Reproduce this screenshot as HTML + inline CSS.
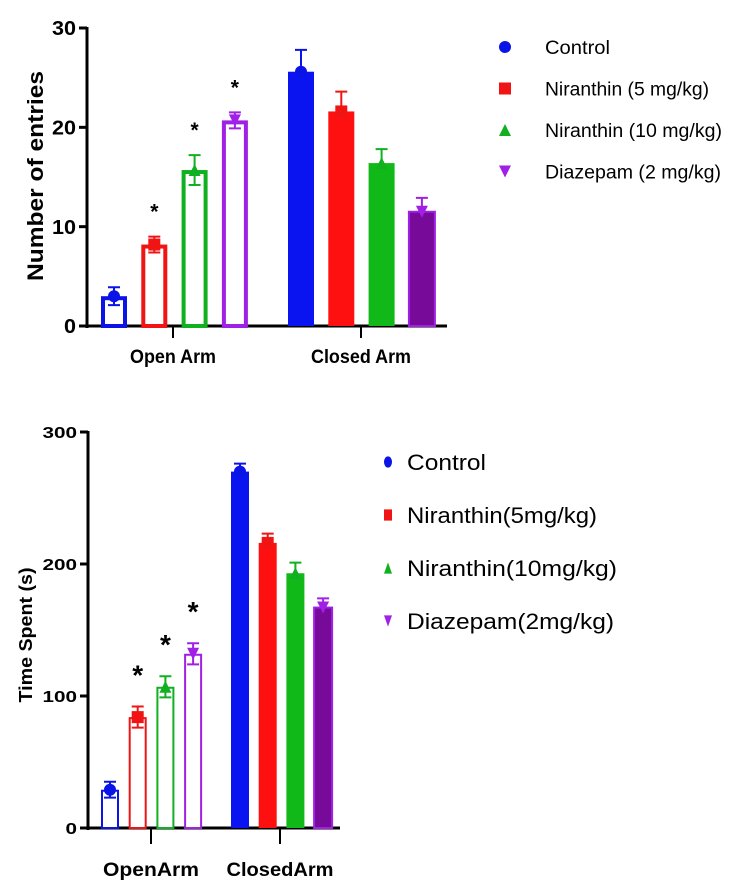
<!DOCTYPE html>
<html><head><meta charset="utf-8"><style>
html,body{margin:0;padding:0;background:#fff;}
svg{display:block;font-family:"Liberation Sans",Arial,sans-serif;}
</style></head><body>
<svg id="s" width="732" height="885" viewBox="0 0 732 885" xmlns="http://www.w3.org/2000/svg"></svg>
<script>
// ---- data ----
const groups = ["Control","Niranthin (5 mg/kg)","Niranthin (10 mg/kg)","Diazepam (2 mg/kg)"];
const groups2 = ["Control","Niranthin(5mg/kg)","Niranthin(10mg/kg)","Diazepam(2mg/kg)"];
const categories1 = ["Open Arm","Closed Arm"];
const categories2 = ["OpenArm","ClosedArm"];
const entriesOpen = [3.0, 8.2, 15.7, 20.7];
const entriesOpenErr = [0.9, 0.8, 1.5, 0.8];
const entriesClosed = [25.6, 21.6, 16.4, 11.5];
const entriesClosedErr = [2.2, 2.0, 1.4, 1.4];
const entriesStars = [false, true, true, true];
const ticks1 = [0, 10, 20, 30];
const timeOpen = [29, 84, 107, 132];
const timeOpenErr = [6, 8, 8, 8];
const timeClosed = [270, 216, 193, 167];
const timeClosedErr = [6, 7, 8, 7];
const timeStars = [false, true, true, true];
const ticks2 = [0, 100, 200, 300];

const colors = ["#0a14e6","#f01414","#10b020","#a020e6"];
const fills = ["#0a14f0","#ff1010","#10b818","#780a9a"];
const NS = "http://www.w3.org/2000/svg";
const svg = document.getElementById('s');
function el(tag, attrs, parent){ const e=document.createElementNS(NS,tag); for(const k in attrs) e.setAttribute(k,attrs[k]); (parent||svg).appendChild(e); return e; }
function fit(t, len){ if(len){ t.setAttribute('textLength',len); t.setAttribute('lengthAdjust','spacingAndGlyphs'); } }

function marker(g, i, cx, cy, r, tall){
  let m;
  const ry = tall ? r*1.4 : r;
  if(i===0) m = el('ellipse',{cx:cx,cy:cy,rx:r,ry:ry,fill:colors[0]},g);
  else if(i===1) m = el('rect',{x:cx-r,y:cy-ry,width:2*r,height:2*ry,fill:colors[1]},g);
  else if(i===2) m = el('polygon',{points:`${cx},${cy-ry} ${cx+r},${cy+ry} ${cx-r},${cy+ry}`,fill:colors[2]},g);
  else m = el('polygon',{points:`${cx-r},${cy-ry} ${cx+r},${cy-ry} ${cx},${cy+ry}`,fill:colors[3]},g);
  return m;
}

function chart(o){
  const g = el('g',{});
  
  
  const y = v => o.y0 - (v - 0) / o.max * (o.y0 - o.yTop);
  const ya = el('line',{x1:o.x0,y1:o.yTop-1,x2:o.x0,y2:o.y0+2,stroke:'#000','stroke-width':3},g);
   
  const xa = el('line',{x1:o.x0-1,y1:o.y0,x2:o.xEnd,y2:o.y0,stroke:'#000','stroke-width':3},g);
   
  o.ticks.forEach(t=>{
    el('line',{x1:o.x0-8,y1:y(t),x2:o.x0,y2:y(t),stroke:'#000','stroke-width':3},g);
    const tx = el('text',{x:o.x0-11,y:y(t)+o.tickFs*0.36,'text-anchor':'end','font-size':o.tickFs,'font-weight':'bold'},g);
    tx.textContent = t;
    fit(tx, String(t).length*o.tickCharW);
     
  });
  o.cats.forEach((c,ci)=>{
    el('line',{x1:o.catX[ci],y1:o.y0,x2:o.catX[ci],y2:o.y0+o.catTick,stroke:'#000','stroke-width':2},g);
    const t = el('text',{x:o.catX[ci],y:o.catY,'text-anchor':'middle','font-size':o.catFs,'font-weight':'bold'},g);
    t.textContent = c;
    fit(t, o.catLen[ci]);
     
  });
  const yt = el('text',{x:0,y:0,transform:`translate(${o.ytX},${o.ytY}) rotate(-90)`,'text-anchor':'middle','font-size':o.ytFs,'font-weight':'bold'},g);
  yt.textContent = o.ytitle;
  fit(yt, o.ytLen);
   
  const sets = [[o.open,o.openErr,true],[o.closed,o.closedErr,false]];
  sets.forEach((s,si)=>{
    s[0].forEach((v,i)=>{
      const bx = o.barX[si] + i*o.step, w = o.bw, cx = bx + w/2;
      const top = y(v), bot = o.y0;
      const b = el('rect',{},g);
      if(s[2]){
        const sw=o.sw;
        b.setAttribute('x',bx+sw/2); b.setAttribute('y',top+sw/2); b.setAttribute('width',w-sw); b.setAttribute('height',bot-top-sw/2);
        b.setAttribute('fill','#fff'); b.setAttribute('stroke',colors[i]); b.setAttribute('stroke-width',sw);
      } else {
        b.setAttribute('x',bx); b.setAttribute('y',top); b.setAttribute('width',w); b.setAttribute('height',bot-top);
        b.setAttribute('fill',fills[i]);
        if(i===3){ b.setAttribute('stroke',colors[3]); b.setAttribute('stroke-width',2); }
      }
      
      
      const e = s[1][i];
      const eb = el('path',{d:`M${cx},${top} V${y(v+e)} M${cx-6},${y(v+e)} H${cx+6}` + (s[2]?` M${cx},${top} V${y(v-e)} M${cx-6},${y(v-e)} H${cx+6}`:''),stroke:colors[i],'stroke-width':2,fill:'none'},g);
       
      const m = marker(g,i,cx,top,o.mr,false);
       
      if(si===0 && o.stars[i]){
        const st = el('text',{x:cx,y:y(v+e)-o.starGap,'text-anchor':'middle','font-size':o.starFs,'font-weight':'bold'},g);
        st.textContent='*';
         
      }
    });
  });
  o.legend.forEach((n,i)=>{
    const ly = o.legY + i*o.legStep;
    const m = marker(g,i,o.legMX,ly,o.legR,o.tall);
     
    const t = el('text',{x:o.legTX,y:ly+o.legFs*0.36,'font-size':o.legFs},g);
    t.textContent = n;
    fit(t, o.legLen[i]);
     
  });
}

chart({name:'entries-chart',x0:87,y0:326,yTop:28,max:30,xEnd:447,ticks:ticks1,tickFs:20,tickCharW:12,
  cats:categories1,catX:[173,361],catY:363,catFs:19,catLen:[86,100],catTick:12,
  ytitle:'Number of entries',ytX:43,ytY:176,ytFs:22,ytLen:210,
  open:entriesOpen,openErr:entriesOpenErr,closed:entriesClosed,closedErr:entriesClosedErr,stars:entriesStars,
  barX:[101,288],step:40.3,bw:26,sw:4,mr:6,starGap:18,starFs:21,
  legend:groups,legY:47,legStep:41.5,legMX:505,legR:6,legTX:545,legFs:19,legLen:[65,164,177,176],tall:false});

chart({name:'time-spent-chart',x0:88,y0:828,yTop:432,max:300,xEnd:340,ticks:ticks2,tickFs:16,tickCharW:11.5,
  cats:categories2,catX:[151,280],catY:876,catFs:19,catLen:[96,107],catTick:16,
  ytitle:'Time Spent (s)',ytX:32,ytY:635,ytFs:18,ytLen:135,
  open:timeOpen,openErr:timeOpenErr,closed:timeClosed,closedErr:timeClosedErr,stars:timeStars,
  barX:[101,231],step:27.7,bw:18,sw:2,mr:6,starGap:22,starFs:28,
  legend:groups2,legY:462,legStep:53,legMX:388,legR:4,legTX:407,legFs:22,legLen:[79,190,210,207],tall:true});
</script>
</body></html>
